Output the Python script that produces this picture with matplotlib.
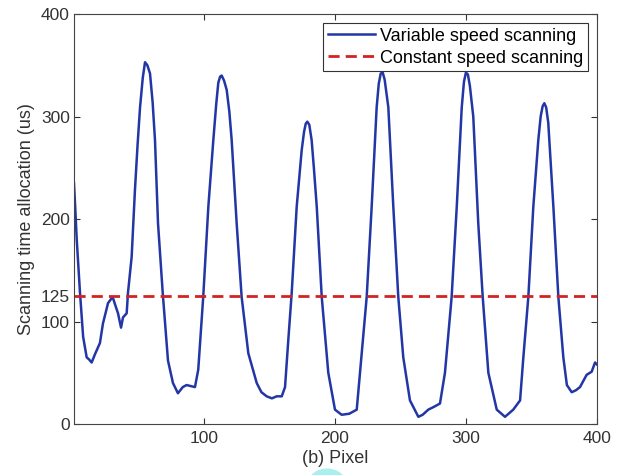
import matplotlib.pyplot as plt
from matplotlib.patches import Circle

# values
pixel = [1, 2, 3.1, 5.6, 8, 10.7, 12.5, 14.5, 17, 20.8, 23.1, 27, 30.5, 32.5, 34.6,
         36.9, 38.4, 41.2, 42.2, 45, 47.5, 49.5, 51.4, 53.5, 55.2, 57, 59, 61, 62.8,
         65.1, 68.7, 72.7, 76.5, 80.3, 84, 86.9, 90, 93.3, 95.8, 99.6, 103.5, 107.3,
         109.5, 111.1, 112.5, 113.7, 115.5, 117.5, 119.5, 121.3, 125.1, 128.9, 134,
         140.4, 144, 148, 152, 155.6, 159.5, 162, 164.5, 167.1, 170.9, 174.7, 176.5,
         177.8, 179, 180.5, 182.3, 184, 186.2, 190, 195, 200.1, 205.2, 211, 216.7, 219.2,
         224.3, 228.1, 231.9, 233.5, 235, 236.5, 238, 240.8, 244.6, 248.4, 252.2, 257.3,
         263.7, 267, 271.3, 276, 280.2, 284, 289.1, 293, 296.8, 298.5, 300, 301.5, 303,
         305.6, 309.4, 312.8, 317.1, 323.5, 329.8, 336.1, 341.3, 343.8, 347.6, 351.4,
         355.2, 357, 358.5, 359.8, 361.2, 362.8, 366.7, 370.5, 374.3, 377, 380.7, 384,
         387, 392.1, 395.9, 398.5, 400]
variable = [235, 210, 180, 128, 85, 65, 63, 60, 68, 79, 98, 118, 124, 116, 108,
            94, 104, 108, 128, 163, 228, 272, 309, 338, 353, 350, 342, 314, 277,
            196, 128, 62, 40, 30, 36, 38, 37, 36, 53, 124, 212, 277,
            312, 333, 339, 340, 335, 326, 305, 277, 196, 124, 69,
            40, 31, 27, 25, 27, 27, 36, 82, 128, 212, 267, 285,
            293, 295, 292, 277, 250, 212, 124, 50, 14, 9, 10, 14, 50,
            124, 212, 309, 332, 342, 343, 336, 309, 212, 124, 65, 23,
            7, 9, 14, 17, 20, 50, 124, 212, 309, 334, 343, 341, 330,
            300, 196, 124, 50, 14, 7, 14, 23, 65, 124, 212,
            277, 300, 310, 313, 309, 294, 212, 124, 65, 38, 31, 33,
            36, 48, 51, 60, 58]
constant = 125
y_ticks = [0, 100, 125, 200, 300, 400]
x_ticks = [100, 200, 300, 400]

plt.rcParams['font.family'] = ['Liberation Sans', 'DejaVu Sans']

fig = plt.figure(figsize=(6.19, 4.75), dpi=100)
ax = fig.add_axes([0.1195, 0.1074, 0.845, 0.863])

ax.plot(pixel, variable, color='#2236a6', lw=1.8, label='Variable speed scanning')
ax.axhline(constant, color='#d42222', lw=2, ls=(0, (4, 2.2)), label='Constant speed scanning')

ax.set_xlim(1, 400)
ax.set_ylim(0, 400)
ax.set_xticks(x_ticks)
ax.set_yticks(y_ticks)
ax.tick_params(direction='in', top=True, right=True, labelsize=12.5, colors='#333333', length=4)
ax.tick_params(axis='x', pad=5)
ax.tick_params(axis='y', pad=3)
for s in ax.spines.values():
    s.set_color('#444444')
ax.set_xlabel('(b) Pixel', fontsize=13, color='#333333', va='center')
ax.xaxis.set_label_coords(0.5, -0.085)
ax.set_ylabel('Scanning time allocation (us)', fontsize=13, color='#333333', labelpad=4)

leg = ax.legend(loc='upper right', bbox_to_anchor=(0.983, 0.978), fontsize=13,
                fancybox=False, framealpha=1, edgecolor='#333333', handlelength=2.6,
                handletextpad=0.3, borderpad=0.25, labelspacing=0.28, borderaxespad=0)
leg.get_frame().set_linewidth(0.8)

# faint cyan blob cut off at the bottom edge of the scan
fig.patches.append(Circle((327 / 619, -8 / 475), 18 / 619, transform=fig.transFigure,
                          color='#a8f0f0', zorder=0))

fig.savefig('out.png', dpi=100)
